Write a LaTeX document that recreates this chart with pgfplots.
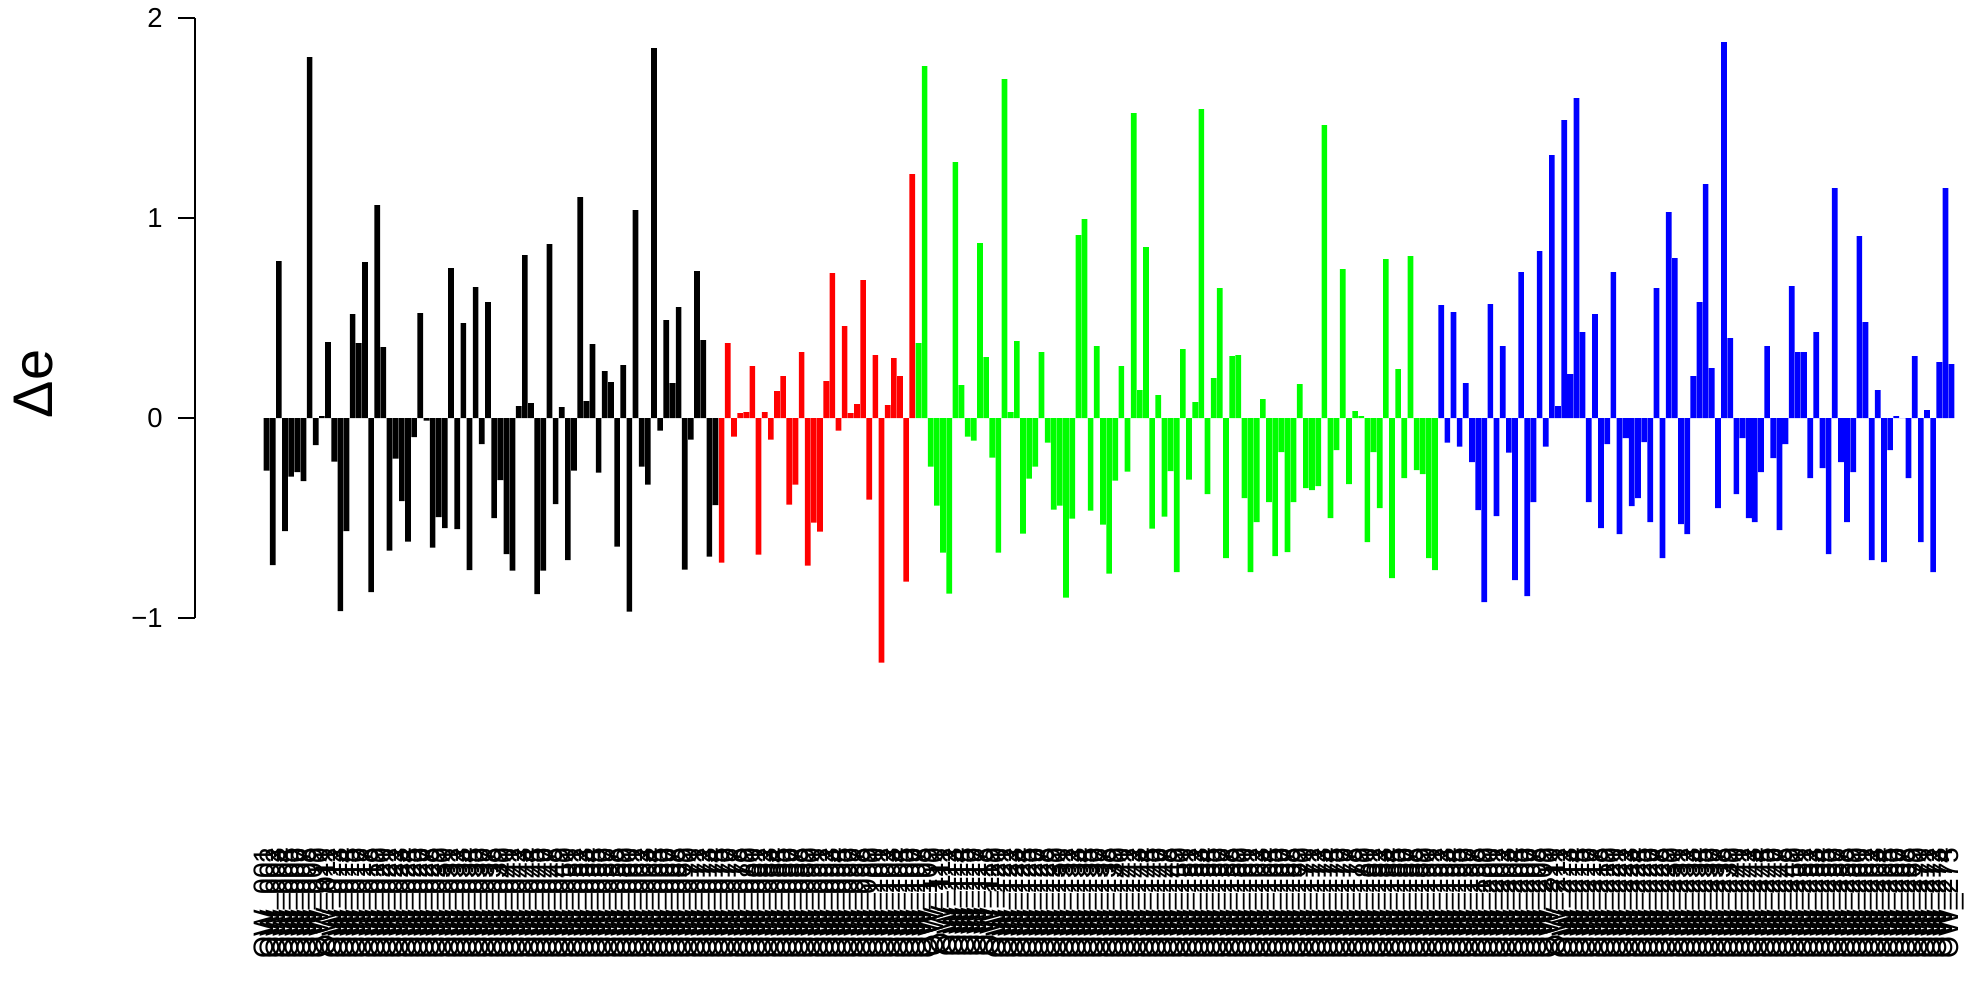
\documentclass[border=0pt]{standalone}
\usepackage{fontspec}
\setmainfont{Liberation Sans}
\usepackage{pgfplots}
\pgfplotsset{compat=1.18}
\definecolor{rred}{RGB}{255,0,0}
\definecolor{rgreen}{RGB}{0,255,0}
\definecolor{rblue}{RGB}{0,0,255}
\newcommand\padnum[1]{\ifnum#1<10 00\else\ifnum#1<100 0\fi\fi#1}

\begin{document}
\begin{tikzpicture}
\begin{axis}[
  scale only axis, width=177.9mm, height=60mm,
  xmin=-11.636, xmax=277.64, ymin=-1, ymax=2,
  clip=false,
  axis y line*=left, axis x line*=bottom,
  x axis line style={draw=none},
  y axis line style={line width=0.6pt},
  ytick={-1,0,1,2},
  yticklabels={−1,0,1,2},
  ytick style={line width=0.6pt, black},
  tick align=outside, major tick length=1.7mm,
  yticklabel style={font=\fontsize{7.8}{9}\selectfont, xshift=-0.3mm},
  xtick={0,...,274},
  xtick style={draw=none},
  xticklabel={\pgfmathtruncatemacro\n{\ticknum+1}OW\_\padnum{\n}},
  xticklabel style={rotate=90, anchor=east, font=\fontsize{8}{9}\selectfont},
  xticklabel shift=20mm,
  ylabel={Δe},
  ylabel style={at={(axis description cs:-0.091,0.39)}, anchor=center, font=\fontsize{15.9}{18}\selectfont},
  ybar, bar width=0.92, /pgf/bar shift=0pt,
]
% black group
\addplot[ybar, fill=black, draw=none] table {
x y
0 -0.263
1 -0.735
2 0.785
3 -0.565
4 -0.293
5 -0.27
6 -0.315
7 1.805
8 -0.135
9 0.01
10 0.38
11 -0.218
12 -0.965
13 -0.565
14 0.52
15 0.375
16 0.78
17 -0.87
18 1.065
19 0.355
20 -0.663
21 -0.203
22 -0.415
23 -0.618
24 -0.095
25 0.525
26 -0.013
27 -0.648
28 -0.495
29 -0.55
30 0.75
31 -0.555
32 0.475
33 -0.76
34 0.655
35 -0.13
36 0.58
37 -0.5
38 -0.31
39 -0.68
40 -0.763
41 0.06
42 0.815
43 0.075
44 -0.88
45 -0.763
46 0.87
47 -0.43
48 0.055
49 -0.71
50 -0.263
51 1.105
52 0.085
53 0.37
54 -0.273
55 0.235
56 0.18
57 -0.643
58 0.265
59 -0.968
60 1.04
61 -0.243
62 -0.333
63 1.85
64 -0.063
65 0.49
66 0.175
67 0.555
68 -0.758
69 -0.108
70 0.735
71 0.39
72 -0.693
73 -0.435
};
% red group
\addplot[ybar, fill=rred, draw=none] table {
x y
74 -0.723
75 0.375
76 -0.093
77 0.025
78 0.03
79 0.26
80 -0.683
81 0.03
82 -0.108
83 0.135
84 0.21
85 -0.433
86 -0.333
87 0.33
88 -0.738
89 -0.523
90 -0.568
91 0.185
92 0.725
93 -0.063
94 0.46
95 0.025
96 0.07
97 0.69
98 -0.408
99 0.315
100 -1.223
101 0.065
102 0.3
103 0.21
104 -0.818
105 1.22
};
% green group
\addplot[ybar, fill=rgreen, draw=none] table {
x y
106 0.375
107 1.76
108 -0.243
109 -0.438
110 -0.673
111 -0.878
112 1.28
113 0.165
114 -0.093
115 -0.113
116 0.875
117 0.305
118 -0.198
119 -0.673
120 1.695
121 0.03
122 0.385
123 -0.578
124 -0.303
125 -0.243
126 0.33
127 -0.123
128 -0.458
129 -0.438
130 -0.898
131 -0.503
132 0.915
133 0.995
134 -0.463
135 0.36
136 -0.533
137 -0.778
138 -0.313
139 0.26
140 -0.268
141 1.525
142 0.14
143 0.855
144 -0.553
145 0.115
146 -0.493
147 -0.265
148 -0.77
149 0.345
150 -0.308
151 0.08
152 1.545
153 -0.38
154 0.2
155 0.65
156 -0.7
157 0.31
158 0.315
159 -0.4
160 -0.77
161 -0.52
162 0.095
163 -0.42
164 -0.69
165 -0.17
166 -0.67
167 -0.42
168 0.17
169 -0.35
170 -0.36
171 -0.34
172 1.465
173 -0.5
174 -0.16
175 0.745
176 -0.33
177 0.035
178 0.01
179 -0.62
180 -0.17
181 -0.45
182 0.795
183 -0.8
184 0.245
185 -0.3
186 0.81
187 -0.26
188 -0.28
189 -0.7
190 -0.76
};
% blue group
\addplot[ybar, fill=rblue, draw=none] table {
x y
191 0.565
192 -0.123
193 0.53
194 -0.143
195 0.175
196 -0.22
197 -0.46
198 -0.92
199 0.57
200 -0.49
201 0.36
202 -0.173
203 -0.81
204 0.73
205 -0.89
206 -0.42
207 0.835
208 -0.143
209 1.315
210 0.06
211 1.49
212 0.22
213 1.6
214 0.43
215 -0.42
216 0.52
217 -0.55
218 -0.13
219 0.73
220 -0.58
221 -0.1
222 -0.44
223 -0.4
224 -0.12
225 -0.52
226 0.65
227 -0.7
228 1.03
229 0.8
230 -0.53
231 -0.58
232 0.21
233 0.58
234 1.17
235 0.25
236 -0.45
237 1.88
238 0.4
239 -0.38
240 -0.1
241 -0.5
242 -0.52
243 -0.27
244 0.36
245 -0.2
246 -0.56
247 -0.13
248 0.66
249 0.33
250 0.33
251 -0.3
252 0.43
253 -0.25
254 -0.68
255 1.15
256 -0.22
257 -0.52
258 -0.27
259 0.91
260 0.48
261 -0.71
262 0.14
263 -0.72
264 -0.16
265 0.01
266 0.0
267 -0.3
268 0.31
269 -0.62
270 0.04
271 -0.77
272 0.28
273 1.15
274 0.27
};
\end{axis}
\pgfresetboundingbox
\path[use as bounding box] (-19.5mm,-37.5mm) rectangle (177.9mm,61.8mm);
\end{tikzpicture}
\end{document}
